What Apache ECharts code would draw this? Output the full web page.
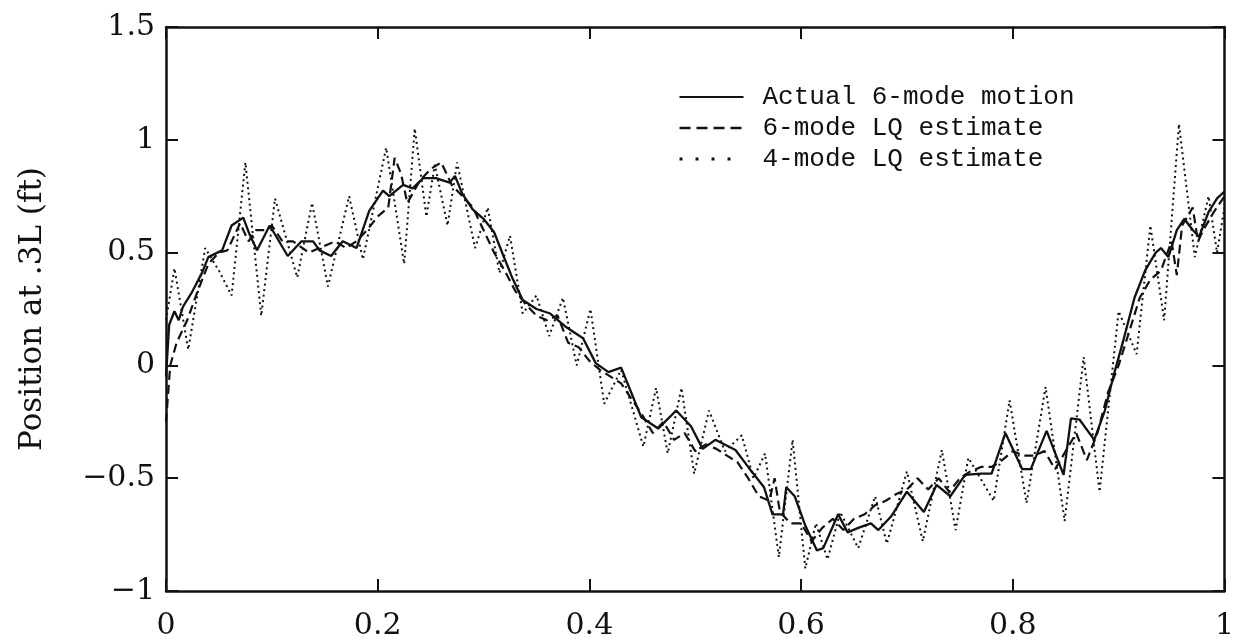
<!DOCTYPE html>
<html>
<head>
<meta charset="utf-8">
<script src="https://cdn.jsdelivr.net/npm/echarts@6/dist/echarts.min.js"></script>
<style>
  html, body { margin: 0; padding: 0; background: #fff; }
  #lineChart { width: 1237px; height: 644px; }
</style>
</head>
<body>
<div id="lineChart"></div>
<script>
// [x, position]
const actualMotion = [
  [0, -0.05], [0.003, 0.18], [0.008, 0.24], [0.012, 0.2], [0.016, 0.26], [0.024, 0.32], [0.034, 0.41],
  [0.04, 0.48], [0.053, 0.51], [0.062, 0.62], [0.073, 0.655], [0.079, 0.58], [0.086, 0.51], [0.098, 0.62],
  [0.115, 0.485], [0.128, 0.55], [0.139, 0.55], [0.145, 0.51], [0.156, 0.485], [0.167, 0.55], [0.18, 0.52],
  [0.192, 0.685], [0.205, 0.775], [0.211, 0.75], [0.224, 0.8], [0.233, 0.785], [0.243, 0.83], [0.255, 0.83],
  [0.268, 0.81], [0.273, 0.84], [0.28, 0.76], [0.29, 0.69], [0.3, 0.65], [0.31, 0.59], [0.318, 0.495],
  [0.327, 0.39], [0.337, 0.29], [0.35, 0.25], [0.363, 0.23], [0.378, 0.17], [0.394, 0.12], [0.406, 0.01],
  [0.418, -0.03], [0.43, -0.01], [0.449, -0.23], [0.465, -0.28], [0.482, -0.2], [0.496, -0.27], [0.507, -0.37],
  [0.519, -0.33], [0.538, -0.375], [0.55, -0.45], [0.565, -0.54], [0.573, -0.66], [0.583, -0.66], [0.586, -0.54],
  [0.594, -0.58], [0.604, -0.71], [0.615, -0.82], [0.621, -0.81], [0.635, -0.66], [0.644, -0.74], [0.654, -0.72],
  [0.666, -0.7], [0.673, -0.73], [0.685, -0.67], [0.7, -0.56], [0.716, -0.65], [0.728, -0.53], [0.741, -0.58],
  [0.755, -0.485], [0.77, -0.48], [0.78, -0.48], [0.793, -0.3], [0.809, -0.46], [0.817, -0.46], [0.832, -0.29],
  [0.848, -0.485], [0.855, -0.235], [0.863, -0.24], [0.877, -0.33], [0.887, -0.2], [0.895, -0.05], [0.905, 0.12],
  [0.915, 0.3], [0.925, 0.42], [0.935, 0.5], [0.94, 0.52], [0.947, 0.48], [0.955, 0.6], [0.962, 0.65],
  [0.97, 0.6], [0.976, 0.57], [0.985, 0.68], [0.993, 0.74], [1.0, 0.77]
];
const lq6Estimate = [
  [0, -0.25], [0.004, 0.0], [0.01, 0.1], [0.02, 0.2], [0.03, 0.33], [0.04, 0.45], [0.05, 0.5], [0.058, 0.51],
  [0.07, 0.63], [0.078, 0.55], [0.085, 0.6], [0.095, 0.6], [0.1, 0.62], [0.11, 0.55], [0.12, 0.55], [0.135, 0.5],
  [0.145, 0.52], [0.16, 0.55], [0.17, 0.52], [0.18, 0.55], [0.19, 0.6], [0.2, 0.66], [0.21, 0.7], [0.216, 0.92],
  [0.222, 0.85], [0.228, 0.72], [0.24, 0.82], [0.25, 0.87], [0.26, 0.9], [0.27, 0.8], [0.28, 0.75], [0.29, 0.7],
  [0.3, 0.6], [0.31, 0.5], [0.32, 0.42], [0.33, 0.33], [0.34, 0.27], [0.35, 0.22], [0.36, 0.2], [0.37, 0.22],
  [0.38, 0.1], [0.39, 0.08], [0.4, 0.02], [0.41, -0.02], [0.42, -0.05], [0.43, -0.08], [0.44, -0.15], [0.45, -0.22],
  [0.46, -0.3], [0.47, -0.25], [0.48, -0.33], [0.49, -0.3], [0.5, -0.38], [0.51, -0.35], [0.52, -0.37], [0.53, -0.4],
  [0.54, -0.43], [0.55, -0.5], [0.56, -0.58], [0.57, -0.6], [0.575, -0.5], [0.58, -0.65], [0.59, -0.7], [0.6, -0.7],
  [0.61, -0.78], [0.62, -0.72], [0.63, -0.68], [0.64, -0.73], [0.65, -0.68], [0.66, -0.66], [0.67, -0.62], [0.68, -0.6],
  [0.69, -0.57], [0.7, -0.55], [0.71, -0.5], [0.72, -0.55], [0.73, -0.5], [0.74, -0.56], [0.75, -0.5], [0.76, -0.47],
  [0.77, -0.45], [0.78, -0.45], [0.79, -0.42], [0.8, -0.38], [0.81, -0.4], [0.82, -0.4], [0.83, -0.38], [0.84, -0.46],
  [0.85, -0.38], [0.86, -0.3], [0.87, -0.42], [0.88, -0.3], [0.89, -0.12], [0.9, 0.0], [0.91, 0.15], [0.92, 0.3],
  [0.93, 0.38], [0.94, 0.42], [0.95, 0.55], [0.955, 0.4], [0.96, 0.62], [0.97, 0.7], [0.975, 0.55], [0.98, 0.6],
  [0.99, 0.68], [1.0, 0.75]
];
const lq4Estimate = [
  [0, 0.2], [0.008, 0.43], [0.021, 0.07], [0.037, 0.52], [0.05, 0.42], [0.062, 0.31], [0.075, 0.9], [0.09, 0.22],
  [0.103, 0.74], [0.124, 0.39], [0.138, 0.72], [0.153, 0.35], [0.173, 0.75], [0.186, 0.47], [0.208, 0.965],
  [0.225, 0.45], [0.235, 1.05], [0.246, 0.66], [0.254, 0.89], [0.266, 0.62], [0.275, 0.9], [0.292, 0.52],
  [0.304, 0.7], [0.315, 0.41], [0.325, 0.575], [0.337, 0.23], [0.35, 0.31], [0.362, 0.13], [0.375, 0.3],
  [0.388, 0.0], [0.401, 0.25], [0.414, -0.17], [0.43, -0.02], [0.451, -0.36], [0.463, -0.1], [0.474, -0.39],
  [0.487, -0.1], [0.499, -0.48], [0.513, -0.2], [0.528, -0.38], [0.544, -0.31], [0.555, -0.5], [0.566, -0.39],
  [0.579, -0.85], [0.592, -0.33], [0.604, -0.9], [0.614, -0.7], [0.625, -0.86], [0.637, -0.65], [0.654, -0.81],
  [0.67, -0.58], [0.681, -0.79], [0.7, -0.47], [0.715, -0.78], [0.733, -0.375], [0.746, -0.73], [0.758, -0.41],
  [0.782, -0.6], [0.797, -0.155], [0.813, -0.61], [0.831, -0.095], [0.849, -0.69], [0.867, 0.037], [0.882, -0.56],
  [0.9, 0.24], [0.917, 0.05], [0.93, 0.62], [0.943, 0.2], [0.957, 1.07], [0.972, 0.48], [0.985, 0.75],
  [0.993, 0.5], [1.0, 0.7]
];
const seriesNames = ['Actual 6-mode motion', '6-mode LQ estimate', '4-mode LQ estimate'];
const xRange = [0, 1, 0.2];
const yRange = [-1, 1.5, 0.5];
const yTitle = 'Position at .3L (ft)';

const ink = '#111';
const serif = '"DejaVu Serif", "Liberation Serif", serif';
const mono = '"Liberation Mono", "DejaVu Sans Mono", monospace';

let myChart = echarts.init(document.getElementById('lineChart'));

const fmt = v => String(v).replace('-', '\u2212');
const tick = { show: true, inside: true, length: 12, lineStyle: { color: ink, width: 2 } };
const line = { show: true, onZero: false, lineStyle: { color: ink, width: 2.5 } };
const tickFont = { fontFamily: serif, fontSize: 30, color: ink };

myChart.setOption({
  animation: false,
  backgroundColor: '#fff',
  grid: { left: 166, right: 10, top: 27, bottom: 53, containLabel: false },
  legend: {
    orient: 'vertical',
    left: 673,
    top: 79,
    itemWidth: 64,
    itemHeight: 26,
    itemGap: 5,
    itemStyle: { opacity: 0, borderWidth: 0 },
    textStyle: { fontFamily: mono, fontSize: 26, color: ink, lineHeight: 26, padding: [0, 0, 0, 14] },
    data: [
      { name: seriesNames[0], lineStyle: { width: 2.2 } },
      { name: seriesNames[1], lineStyle: { width: 2.5, type: [11, 6] } },
      { name: seriesNames[2], lineStyle: { width: 3, type: [3, 13] } }
    ]
  },
  xAxis: [
    {
      type: 'value', min: xRange[0], max: xRange[1], interval: xRange[2], position: 'bottom',
      axisLine: line, axisTick: tick, splitLine: { show: false },
      axisLabel: { ...tickFont, margin: 20, formatter: fmt }
    },
    {
      type: 'value', min: xRange[0], max: xRange[1], interval: xRange[2], position: 'top',
      axisLine: line, axisTick: tick, splitLine: { show: false }, axisLabel: { show: false }
    }
  ],
  yAxis: [
    {
      type: 'value', min: yRange[0], max: yRange[1], interval: yRange[2], position: 'left',
      name: yTitle, nameLocation: 'middle', nameGap: 118, nameRotate: 90,
      nameTextStyle: { fontFamily: serif, fontSize: 31, color: ink },
      axisLine: line, axisTick: tick, splitLine: { show: false },
      axisLabel: { ...tickFont, margin: 11, formatter: fmt }
    },
    {
      type: 'value', min: yRange[0], max: yRange[1], interval: yRange[2], position: 'right',
      axisLine: line, axisTick: tick, splitLine: { show: false }, axisLabel: { show: false }
    }
  ],
  series: [
    { name: seriesNames[0], data: actualMotion, lineStyle: { width: 2.3, color: ink } },
    { name: seriesNames[1], data: lq6Estimate, lineStyle: { width: 2.2, color: ink, type: [9, 5] } },
    { name: seriesNames[2], data: lq4Estimate, lineStyle: { width: 2, color: ink, type: [2, 3.5] } }
  ].map(item => {
    return {
      type: 'line',
      symbol: 'none',
      showSymbol: false,
      smooth: false,
      clip: true,
      itemStyle: { color: ink },
      emphasis: { disabled: true },
      ...item
    };
  })
});
</script>
</body>
</html>
